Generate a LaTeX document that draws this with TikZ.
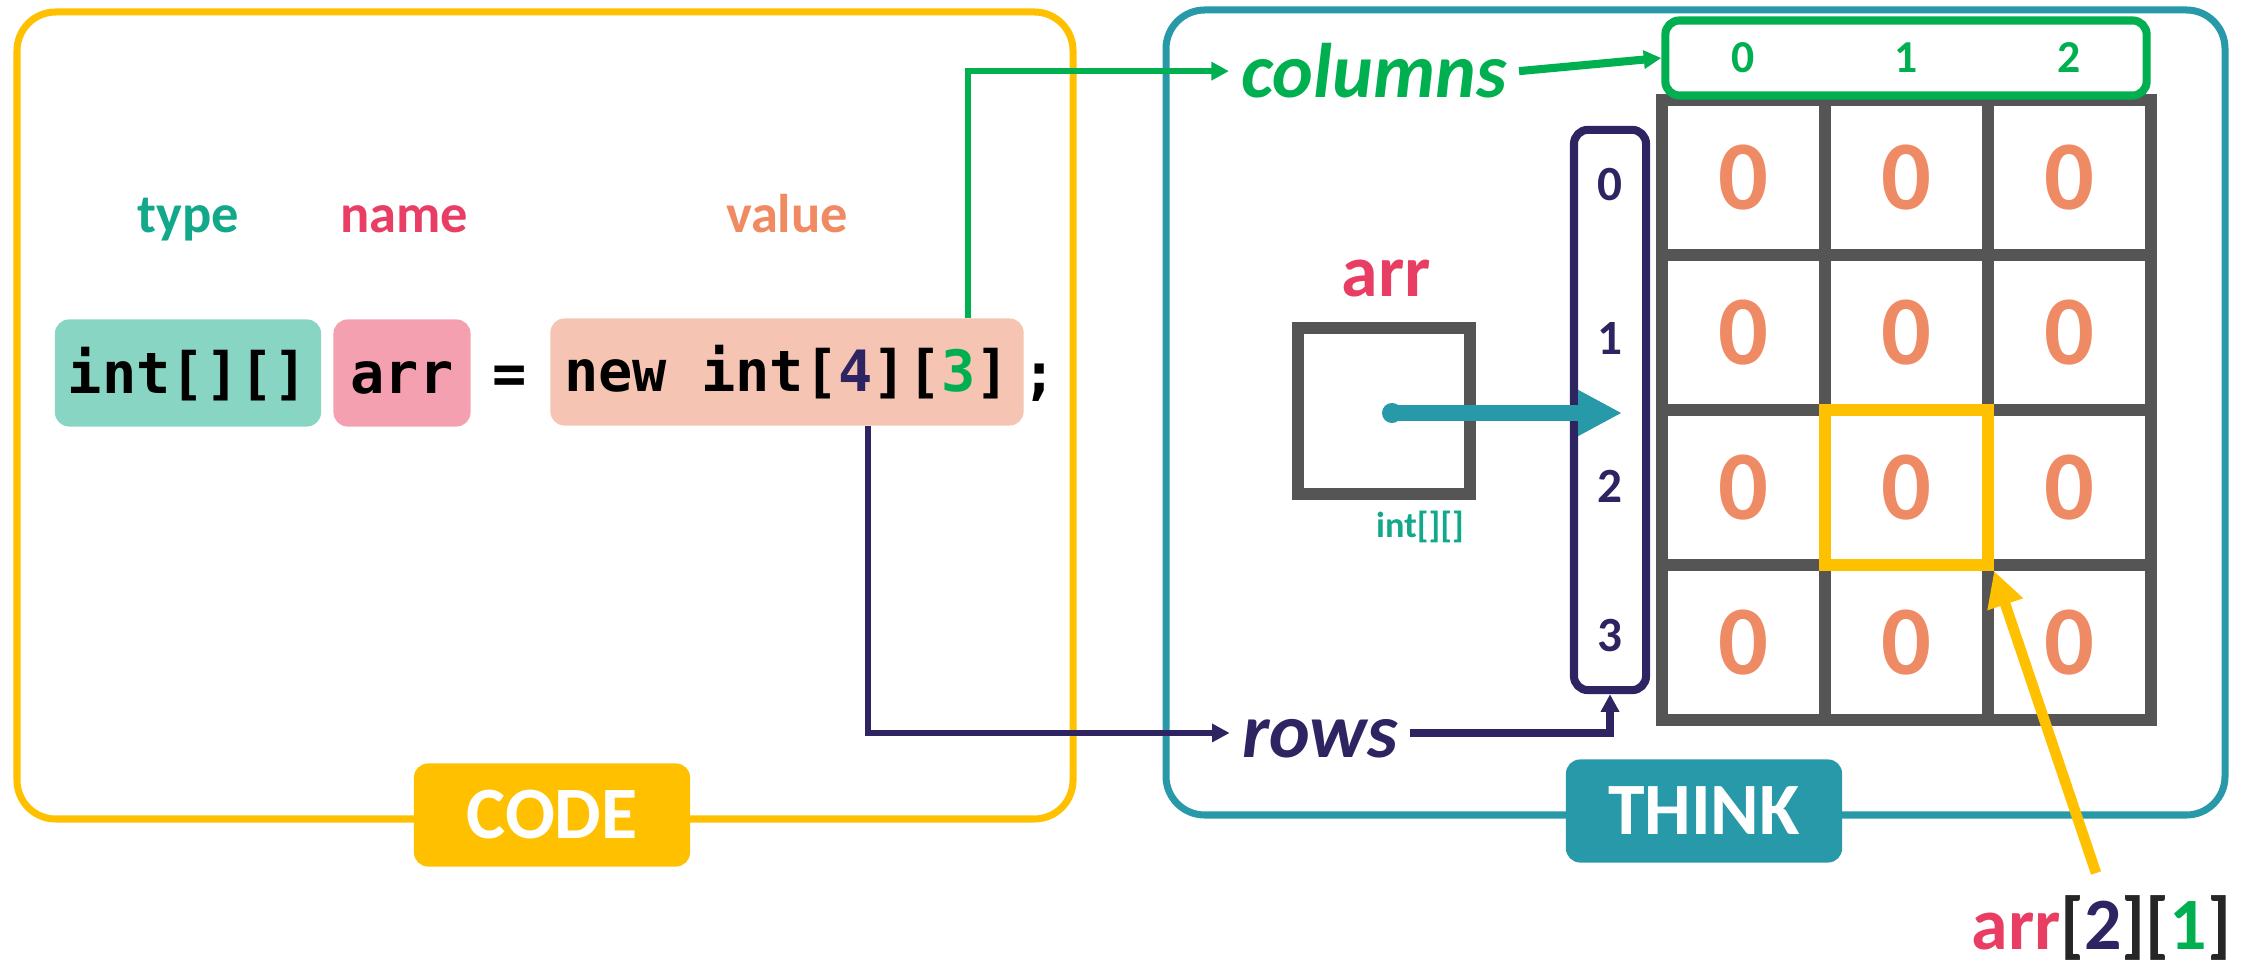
\documentclass[tikz,border=0pt]{standalone}
\usepackage{fontspec}
\setmainfont{Carlito}
\setmonofont{DejaVu Sans Mono}
\usetikzlibrary{arrows.meta,positioning}

\definecolor{codeyellow}{HTML}{FFC000}
\definecolor{thinkteal}{HTML}{2899A8}
\definecolor{colgreen}{HTML}{00B050}
\definecolor{navy}{HTML}{2E2462}
\definecolor{zeroorange}{HTML}{EE8B65}
\definecolor{namepink}{HTML}{E83E64}
\definecolor{typeteal}{HTML}{12A88A}
\definecolor{valorange}{HTML}{F08A62}
\definecolor{intfill}{HTML}{88D5C4}
\definecolor{arrfill}{HTML}{F4A0B0}
\definecolor{valfill}{HTML}{F6C4B2}
\definecolor{gridgray}{HTML}{555555}

\tikzset{
  panel/.style={line width=2pt, rounded corners=11pt},
  tag/.style={rounded corners=4pt, minimum width=2.76cm, minimum height=1.03cm,
    text=white, font=\bfseries\fontsize{21}{24}\selectfont},
  codebox/.style={rounded corners=4pt, minimum height=1.07cm, inner sep=0pt,
    text height=0.5cm, text depth=0.1cm, font=\ttfamily\bfseries\fontsize{16.2}{19}\selectfont},
  hint/.style={anchor=base, font=\bfseries\fontsize{15.5}{18}\selectfont},
  bigword/.style={anchor=base, font=\bfseries\itshape\fontsize{22}{26}\selectfont},
  cell/.style={draw=gridgray, line width=3.4pt, minimum width=1.63cm, minimum height=1.55cm,
    text=zeroorange, font=\bfseries\fontsize{28}{32}\selectfont},
  colnum/.style={text=colgreen, font=\bfseries\fontsize{13}{15}\selectfont},
  rownum/.style={text=navy, font=\bfseries\fontsize{14}{16}\selectfont},
  tip/.style={-{Triangle[length=5pt,width=5pt]}},
}

\begin{document}
\begin{tikzpicture}[x=0.01cm, y=-0.01cm]
    \useasboundingbox (0,0) rectangle (2252,971);

    % Panels and their tags
    \draw[panel, codeyellow] (17,12) rectangle (1073,819);
    \draw[panel, thinkteal] (1166,10) rectangle (2225,815);
    \node[tag, fill=codeyellow] (codetag) at (552,815) {CODE};
    \node[tag, fill=thinkteal] (thinktag) at (1704,811) {THINK};

    % The statement
    \node[hint, text=typeteal] (typelbl) at (188,233) {type};
    \node[hint, text=namepink] (namelbl) at (404,233) {name};
    \node[hint, text=valorange] (vallbl) at (787,233) {value};
    \node[codebox, fill=intfill, minimum width=2.66cm] (typebox) at (188,373) {int[][]};
    \node[codebox, fill=arrfill, minimum width=1.37cm] (namebox) at (402,373) {arr};
    \node[codebox] (eq) at (510,373) {=};
    \node[codebox, fill=valfill, minimum width=4.73cm] (valbox) at (787,372)
        {new int[{\color{navy}4}][{\color{colgreen}3}]};
    \node[codebox] (semi) at (1040,373) {;};
    \coordinate (dim3) at (968,318);
    \coordinate (dim4) at (868,426);

    % Grid of zeros
    \foreach \ro in {0,...,3}
        \foreach \co in {0,...,2}
            \node[cell] (cell-\ro-\co) at ({1743.5+163*\co},{177.5+155*\ro}) {0};

    % Index boxes
    \node[draw=colgreen, line width=2.3pt, rounded corners=4pt, minimum width=4.81cm,
        minimum height=0.75cm] (colidx) at (1906,58) {};
    \foreach \co in {0,1,2}
        \node[colnum] at (cell-0-\co |- colidx) {\co};
    \node[draw=navy, line width=2.3pt, rounded corners=4pt, minimum width=0.72cm,
        minimum height=5.6cm] (rowidx) at (1610,410) {};
    \foreach \ro/\y in {0/185, 1/339, 2/486, 3/636}
        \node[rownum] at (1610,\y) {\ro};

    % Words
    \node[bigword, text=colgreen] (colword) at (1374,98) {columns};
    \node[bigword, text=navy, text height=0.5cm, text depth=0pt] (rowword) at (1320,758) {rows};

    % Reference variable
    \node[hint, text=namepink, font=\bfseries\fontsize{21}{24}\selectfont] (arrlbl) at (1386,297) {arr};
    \node[draw=gridgray, line width=3.4pt, minimum width=1.72cm, minimum height=1.65cm] (ptr) at (1384,411) {};
    \node[hint, text=typeteal, font=\bfseries\fontsize{10.3}{12}\selectfont] (ptrtype) at (1420,538) {int[][]};
    \coordinate (dot) at (1392,413);
    \coordinate (ptrtip) at (1622,413);

    % Connectors
    \draw[colgreen, line width=1.5pt, tip] (dim3) |- (colword.west);
    \draw[navy, line width=1.5pt, tip] (dim4) |- (rowword.west);
    \draw[colgreen, line width=2.3pt, tip] (colword.east) -- (colidx.west);
    \draw[navy, line width=2.3pt, tip] (rowword.east) -| (rowidx.south);
    \fill[thinkteal] (dot) circle[radius=2.85pt];
    \draw[thinkteal, line width=4.5pt, -{Triangle[length=12.5pt,width=12.2pt]}] (dot) -- (ptrtip);

    % Picked element
    \node[draw=codeyellow, line width=3.4pt, minimum width=1.63cm, minimum height=1.55cm] (pick) at (cell-2-1) {};
    \coordinate (callout) at (2096,873);
    \draw[codeyellow, line width=3pt, -{Triangle[length=10pt,width=10pt]}] (callout) -- (pick.south east);
    \node[anchor=base east, inner sep=0pt, font=\bfseries\fontsize{21}{24}\selectfont] (access) at (2232,950)
        {\color{namepink}arr\color{black!85}[\color{navy}2\color{black!85}][\color{colgreen}1\color{black!85}]};
\end{tikzpicture}
\end{document}
